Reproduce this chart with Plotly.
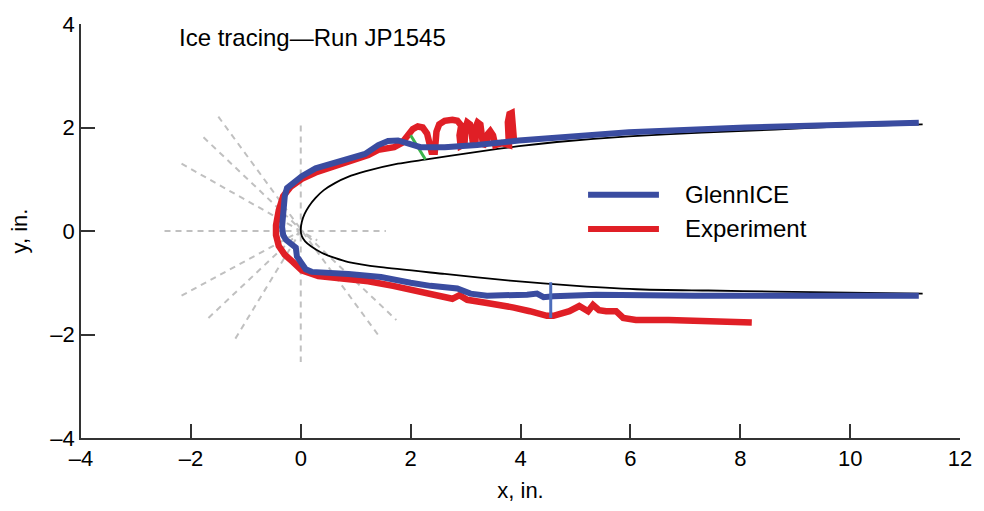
import plotly.graph_objects as go

# Clean airfoil contour (x, y in inches)
airfoil_x = [11.32, 9.89, 8.63, 7.30, 5.97, 4.66, 3.97, 3.21, 2.26, 1.77, 1.17, 0.85, 0.63, 0.42, 0.27,
             0.15, 0.07, 0.02, 0.0, 0.02, 0.08, 0.18, 0.38, 0.62, 0.87, 1.46, 2.62, 3.81, 5.02, 6.23,
             7.42, 8.63, 11.32]
airfoil_y = [2.06, 2.02, 1.96, 1.90, 1.83, 1.72, 1.64, 1.53, 1.38, 1.30, 1.15, 1.04, 0.93, 0.79, 0.64,
             0.48, 0.33, 0.18, 0.02, -0.10, -0.20, -0.29, -0.42, -0.52, -0.60, -0.70, -0.83, -0.96, -1.06, -1.13,
             -1.15, -1.17, -1.21]

# GlennICE predicted ice shape
glenn_x = [11.25, 9.89, 8.09, 5.97, 4.66, 3.97, 3.21, 2.62, 2.18, 2.00, 1.77, 1.59, 1.41, 1.17, 0.63,
           0.27, 0.02, -0.13, -0.25, -0.29, -0.31, -0.34, -0.32, -0.27, -0.09, -0.07, 0.09, 0.20,
           0.87, 1.46, 2.00, 2.36, 2.85, 3.09, 3.39, 3.81, 4.12, 4.30, 4.42, 4.60, 5.38, 7.18, 8.63, 11.25]
glenn_y = [2.09, 2.06, 2.00, 1.91, 1.81, 1.75, 1.66, 1.62, 1.62, 1.68, 1.75, 1.74, 1.66, 1.49, 1.34,
           1.21, 1.06, 0.94, 0.83, 0.68, 0.26, 0.08, -0.08, -0.17, -0.32, -0.49, -0.74, -0.79,
           -0.83, -0.89, -1.00, -1.06, -1.11, -1.21, -1.25, -1.25, -1.23, -1.21, -1.28, -1.26, -1.23, -1.25, -1.25, -1.25]

# Experimental ice tracing
exp_x = [3.88, 3.87, 3.84, 3.80, 3.77, 3.79, 3.66, 3.54, 3.50, 3.45, 3.41, 3.39, 3.32,
         3.29, 3.27, 3.22, 3.19, 3.18, 3.14, 3.11, 3.08, 3.03, 3.00, 2.98,
         2.91, 2.89, 2.92, 2.85, 2.76, 2.62, 2.52, 2.47, 2.45, 2.44, 2.38, 2.35,
         2.30, 2.22, 2.13, 2.04, 1.96, 1.84, 1.70, 1.55, 1.41, 1.23, 0.69, 0.27, 0.02, -0.18, -0.32,
         -0.40, -0.45, -0.45, -0.40, -0.29, -0.14, 0.02, 0.32, 0.78, 1.23, 1.68, 2.00, 2.31, 2.58,
         2.76, 2.89, 3.03, 3.39, 3.70, 3.88, 4.17, 4.48, 4.60, 4.89, 5.07, 5.23, 5.32, 5.43, 5.56,
         5.74, 5.87, 6.10, 6.70, 7.31, 7.60, 8.21]
exp_y = [1.77, 2.09, 2.28, 2.26, 2.10, 1.66, 1.70, 1.66, 1.85, 1.93, 1.88, 1.72, 1.64,
         1.90, 2.06, 2.10, 2.02, 1.70, 1.64, 1.90, 2.06, 2.10, 2.00, 1.68,
         1.64, 1.85, 2.04, 2.13, 2.15, 2.13, 2.06, 1.92, 1.72, 1.53, 1.53, 1.68,
         1.88, 2.00, 2.02, 1.97, 1.85, 1.70, 1.62, 1.60, 1.57, 1.47, 1.28, 1.13, 1.01, 0.86, 0.67,
         0.40, 0.11, -0.08, -0.29, -0.46, -0.60, -0.76, -0.87, -0.92, -0.97, -1.06, -1.13, -1.20, -1.28,
         -1.31, -1.24, -1.33, -1.39, -1.43, -1.48, -1.55, -1.64, -1.64, -1.55, -1.45, -1.55, -1.43, -1.53, -1.55,
         -1.55, -1.68, -1.72, -1.72, -1.74, -1.75, -1.77]

# Radial reference rays from the leading edge (start, end)
rays = [
    ((-2.48, 0.0), (1.55, 0.0)),
    ((0.0, 2.04), (0.0, -2.53)),
    ((-1.50, 2.21), (1.43, -2.04)),
    ((-1.77, 1.81), (1.74, -1.72)),
    ((-2.17, 1.30), (0.30, -0.18)),
    ((-2.17, -1.25), (0.0, 0.0)),
    ((-1.68, -1.68), (0.0, 0.0)),
    ((-1.19, -2.08), (0.0, 0.0)),
]

# Ice-thickness markers
green_x = [2.00, 2.27]
green_y = [1.85, 1.38]
cut_x = [4.55, 4.55]
cut_y = [-0.99, -1.68]

x_ticks = [-4, -2, 0, 2, 4, 6, 8, 10, 12]
y_ticks = [-4, -2, 0, 2, 4]

BLUE = "#3a4ca0"
RED = "#e01f26"
FONT = "Liberation Sans, Arial, sans-serif"


def label(v):
    return str(v).replace("-", "\u2013")


fig = go.Figure()

for (x0, y0), (x1, y1) in rays:
    fig.add_trace(go.Scatter(x=[x0, x1], y=[y0, y1], mode="lines", showlegend=False,
                             line=dict(color="#c0c0c0", width=2, dash="6px,5px"), hoverinfo="skip"))

fig.add_trace(go.Scatter(x=airfoil_x, y=airfoil_y, mode="lines", showlegend=False,
                         line=dict(color="black", width=1.8, shape="spline", smoothing=0.6)))
fig.add_trace(go.Scatter(x=exp_x, y=exp_y, mode="lines", showlegend=False,
                         line=dict(color=RED, width=6.5)))
fig.add_trace(go.Scatter(x=green_x, y=green_y, mode="lines", showlegend=False,
                         line=dict(color="#3cb44b", width=3)))
fig.add_trace(go.Scatter(x=glenn_x, y=glenn_y, mode="lines", showlegend=False,
                         line=dict(color=BLUE, width=6)))
fig.add_trace(go.Scatter(x=cut_x, y=cut_y, mode="lines", showlegend=False,
                         line=dict(color="#4d6dbb", width=3)))

# Legend samples
legend_x = [5.23, 6.52]
fig.add_trace(go.Scatter(x=legend_x, y=[0.70, 0.70], mode="lines", showlegend=False,
                         line=dict(color=BLUE, width=6)))
fig.add_trace(go.Scatter(x=legend_x, y=[0.04, 0.04], mode="lines", showlegend=False,
                         line=dict(color=RED, width=6)))
fig.add_annotation(x=6.95, y=0.70, text="GlennICE", showarrow=False, xanchor="left",
                   font=dict(size=24, color="black", family=FONT))
fig.add_annotation(x=6.95, y=0.04, text="Experiment", showarrow=False, xanchor="left",
                   font=dict(size=24, color="black", family=FONT))

fig.add_annotation(x=-2.26, y=3.74, text="Ice tracing\u2014Run JP1545", showarrow=False,
                   xanchor="left", font=dict(size=24, color="black", family=FONT))

axis_common = dict(showgrid=False, zeroline=False, showline=True, linecolor="#333333", linewidth=1.5,
                   ticks="inside", ticklen=14, tickwidth=1.5, tickcolor="#333333",
                   ticklabeloverflow="allow",
                   tickfont=dict(size=22, color="black", family=FONT))

fig.update_xaxes(range=[-4, 12], tickvals=x_ticks, ticktext=[label(v) for v in x_ticks],
                 title=dict(text="x, in.", font=dict(size=22, color="black", family=FONT), standoff=12),
                 **axis_common)
fig.update_yaxes(range=[-4, 4], tickvals=y_ticks, ticktext=[label(v) for v in y_ticks],
                 title=dict(text="y, in.", font=dict(size=22, color="black", family=FONT), standoff=17),
                 **axis_common)

fig.update_layout(width=984, height=511, margin=dict(l=81, r=14, t=17, b=68),
                  plot_bgcolor="white", paper_bgcolor="white", font=dict(family=FONT))

fig.write_html("out.html")
